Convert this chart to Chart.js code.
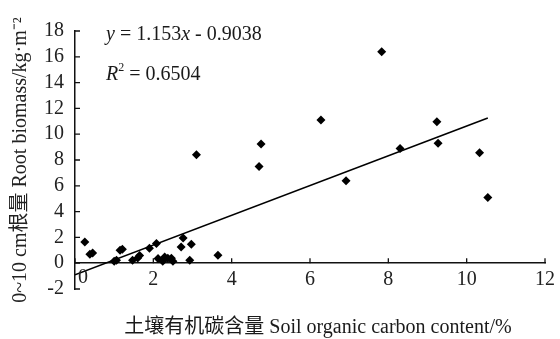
<!DOCTYPE html>
<html>
<head>
<meta charset="utf-8">
<script src="https://cdn.jsdelivr.net/npm/chart.js@4"></script>
<style>
  html, body { margin: 0; padding: 0; background: #fff; }
  #wrap { width: 560px; height: 339px; }
</style>
</head>
<body>
<div id="wrap"><canvas id="myChart"></canvas></div>
<script>
// soil organic carbon (%) vs root biomass (kg/m2), 0-10 cm
var socValues = [0.25, 0.38, 0.45, 1.06, 1.15, 1.21, 1.0, 1.47, 1.6, 1.65, 1.9, 2.08, 2.12, 2.24, 2.29, 2.37, 2.46, 2.5,
                 2.71, 2.76, 2.93, 2.97, 3.1, 3.65, 4.7, 4.75, 6.28, 6.92, 7.83, 8.3, 9.24, 9.27, 10.33, 10.54];
var rootValues = [1.64, 0.7, 0.8, 0.23, 1.0, 1.08, 0.15, 0.23, 0.4, 0.6, 1.15, 1.52, 0.36, 0.15, 0.49, 0.39, 0.39, 0.15,
                  1.26, 1.96, 0.23, 1.47, 8.4, 0.62, 7.5, 9.25, 11.1, 6.4, 16.4, 8.9, 10.97, 9.3, 8.57, 5.1];
var xTicks = [0, 2, 4, 6, 8, 10, 12];
var yTicks = [-2, 0, 2, 4, 6, 8, 10, 12, 14, 16, 18];
var slope = 1.153;
var intercept = -0.9038;
var r2 = "0.6504";

var serif = '"Liberation Serif", "Noto Sans CJK SC", serif';

var points = [];
for (var i = 0; i < socValues.length; i++) {
    points.push({x: socValues[i], y: rootValues[i]});
}
var xMax = Math.max.apply(null, socValues);
var trend = [{x: 0, y: intercept}, {x: xMax, y: slope * xMax + intercept}];

// ticks drawn inside the axes + equation + x title
var extras = {
    id: 'extras',
    afterDraw: function (chart) {
        var ctx = chart.ctx;
        var xs = chart.scales.x, ys = chart.scales.y;
        var y0 = ys.getPixelForValue(0);
        var left = xs.left;
        ctx.save();
        ctx.strokeStyle = '#111';
        ctx.lineWidth = 1.3;
        ctx.beginPath();
        yTicks.forEach(function (v) {
            var p = ys.getPixelForValue(v);
            ctx.moveTo(left, p);
            ctx.lineTo(left + 5, p);
        });
        xTicks.forEach(function (v) {
            var p = xs.getPixelForValue(v);
            ctx.moveTo(p, y0);
            ctx.lineTo(p, y0 - 5);
        });
        ctx.stroke();

        ctx.fillStyle = '#222';
        // the "0" of the x axis sits a bit right of the y axis
        ctx.font = '20px ' + serif;
        ctx.textAlign = 'center';
        ctx.textBaseline = 'top';
        ctx.fillText('0', xs.getPixelForValue(0) + 8, y0 + 5);

        ctx.fillStyle = '#1a1a1a';
        ctx.textBaseline = 'alphabetic';
        ctx.textAlign = 'left';
        var tx = 106, ty = 40;
        function part(txt, italic) {
            ctx.font = (italic ? 'italic ' : '') + '20px ' + serif;
            ctx.fillText(txt, tx, ty);
            tx += ctx.measureText(txt).width;
        }
        part('y', true);
        part(' = 1.153', false);
        part('x', true);
        part(' - 0.9038', false);

        tx = 106; ty = 80;
        part('R', true);
        ctx.font = '12px ' + serif;
        ctx.fillText('2', tx, ty - 9);
        tx += ctx.measureText('2').width;
        part(' = ' + r2, false);

        ctx.font = '20px ' + serif;
        ctx.textAlign = 'center';
        ctx.fillText('土壤有机碳含量 Soil organic carbon content/%', 318, 333);
        ctx.restore();
    }
};

const ctx = document.getElementById('myChart').getContext('2d');
const myChart = new Chart(ctx, {
    type: 'scatter',
    data: {
        datasets: [{
                label: 'points',
                data: points,
                pointStyle: 'rectRot',
                pointRadius: 4.5,
                backgroundColor: '#000',
                borderColor: '#000',
                borderWidth: 0
            }, {
                label: 'trend',
                type: 'line',
                data: trend,
                borderColor: '#000',
                borderWidth: 1.6,
                pointRadius: 0,
                fill: false
            }]
    },
    options: {
        responsive: true,
        maintainAspectRatio: false,
        animation: false,
        layout: {padding: {top: 31, right: 14, bottom: 50, left: 0}},
        plugins: {
            legend: {display: false},
            tooltip: {enabled: false}
        },
        scales: {
            x: {
                type: 'linear',
                position: {y: 0},
                min: 0,
                max: 12,
                afterBuildTicks: function (s) {
                    s.ticks = xTicks.map(function (v) { return {value: v}; });
                },
                grid: {drawOnChartArea: false, drawTicks: false},
                border: {color: '#111', width: 1.5},
                ticks: {
                    color: '#222',
                    padding: 5,
                    autoSkip: false,
                    maxRotation: 0,
                    font: {family: serif, size: 20},
                    callback: function (v) {
                        return v === 0 ? '' : v;
                    }
                }
            },
            y: {
                type: 'linear',
                position: 'left',
                min: -2,
                max: 18,
                afterBuildTicks: function (s) {
                    s.ticks = yTicks.map(function (v) { return {value: v}; });
                },
                afterFit: function (s) {
                    s.width = 75;
                },
                grid: {drawOnChartArea: false, drawTicks: false},
                border: {color: '#111', width: 1.5},
                ticks: {
                    color: '#222',
                    padding: 11,
                    autoSkip: false,
                    font: {family: serif, size: 20}
                },
                title: {
                    display: true,
                    text: '0~10 cm根量 Root biomass/kg·m⁻²',
                    color: '#222',
                    padding: {top: 9, bottom: 0},
                    font: {family: serif, size: 20}
                }
            }
        }
    },
    plugins: [extras]
});
</script>
</body>
</html>
